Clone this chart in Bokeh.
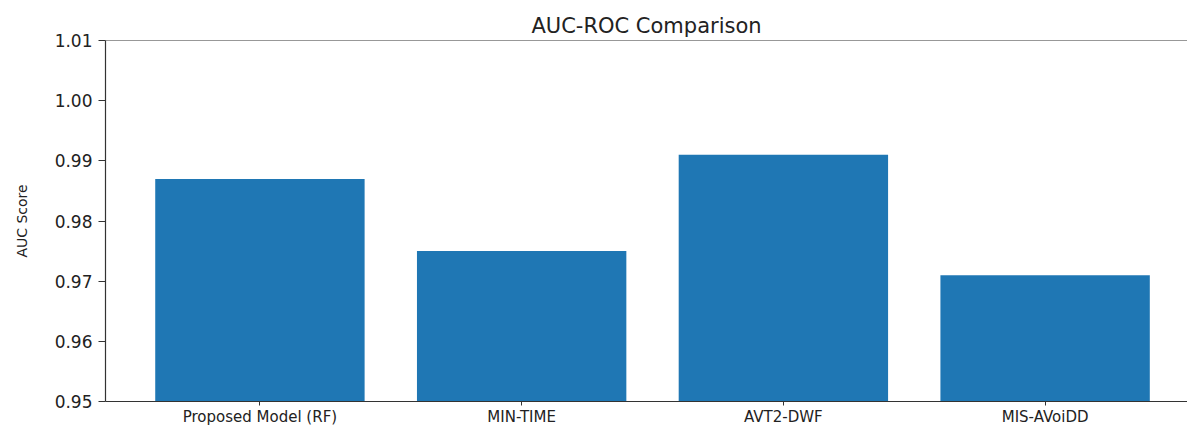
from bokeh.plotting import figure
from bokeh.models import Range1d, FixedTicker, Span, ColumnDataSource, NumeralTickFormatter
from bokeh.embed import file_html
from bokeh.resources import INLINE

categories = ["Proposed Model (RF)", "MIN-TIME", "AVT2-DWF", "MIS-AVoiDD"]
auc_scores = [0.987, 0.975, 0.991, 0.971]
y_ticks = [0.95, 0.96, 0.97, 0.98, 0.99, 1.00, 1.01]

FONT = "DejaVu Sans"
idx = list(range(len(categories)))
src = ColumnDataSource(dict(x=idx, top=auc_scores, name=categories))

p = figure(width=1187, height=428, output_backend="svg", toolbar_location=None,
           x_range=Range1d(-0.59, 3.544), y_range=Range1d(0.95, 1.01),
           min_border_left=105, min_border_right=0, min_border_top=40, min_border_bottom=10)

p.vbar(x="x", top="top", bottom=0, width=0.8, source=src,
       fill_color="#1f77b4", line_color=None)

p.title.text = "AUC-ROC Comparison"
p.title.align = "center"
p.title.text_font = FONT
p.title.text_font_size = "21px"
p.title.text_font_style = "normal"
p.title.text_color = "#222222"
p.title.standoff = 6

p.outline_line_color = None
p.xgrid.visible = False
p.ygrid.visible = False
p.background_fill_color = "white"
p.border_fill_color = "white"

top_spine = Span(location=1.01, dimension="width", line_color="#333333", line_width=1.2)
p.add_layout(top_spine)

xa = p.xaxis[0]
xa.ticker = FixedTicker(ticks=idx)
xa.major_label_overrides = {i: c for i, c in zip(idx, categories)}
xa.major_label_text_font = FONT
xa.major_label_text_font_size = "15px"
xa.major_label_text_color = "#222222"
xa.major_tick_in = 0
xa.major_tick_out = 4
xa.minor_tick_line_color = None
xa.axis_line_color = "#333333"
xa.axis_line_width = 1.2
xa.major_tick_line_color = "#333333"
xa.major_label_standoff = 2

ya = p.yaxis[0]
ya.ticker = FixedTicker(ticks=y_ticks)
ya.formatter = NumeralTickFormatter(format="0.00")
ya.major_label_text_font = FONT
ya.major_label_text_font_size = "17px"
ya.major_label_text_color = "#222222"
ya.major_tick_in = 0
ya.major_tick_out = 7
ya.minor_tick_line_color = None
ya.axis_line_color = "#333333"
ya.axis_line_width = 1.2
ya.major_tick_line_color = "#333333"
ya.major_label_standoff = 6
ya.axis_label = "AUC Score"
ya.axis_label_text_font = FONT
ya.axis_label_text_font_size = "14px"
ya.axis_label_text_font_style = "normal"
ya.axis_label_text_color = "#222222"
ya.axis_label_standoff = 22

open("out.html", "w").write(file_html(p, INLINE))
